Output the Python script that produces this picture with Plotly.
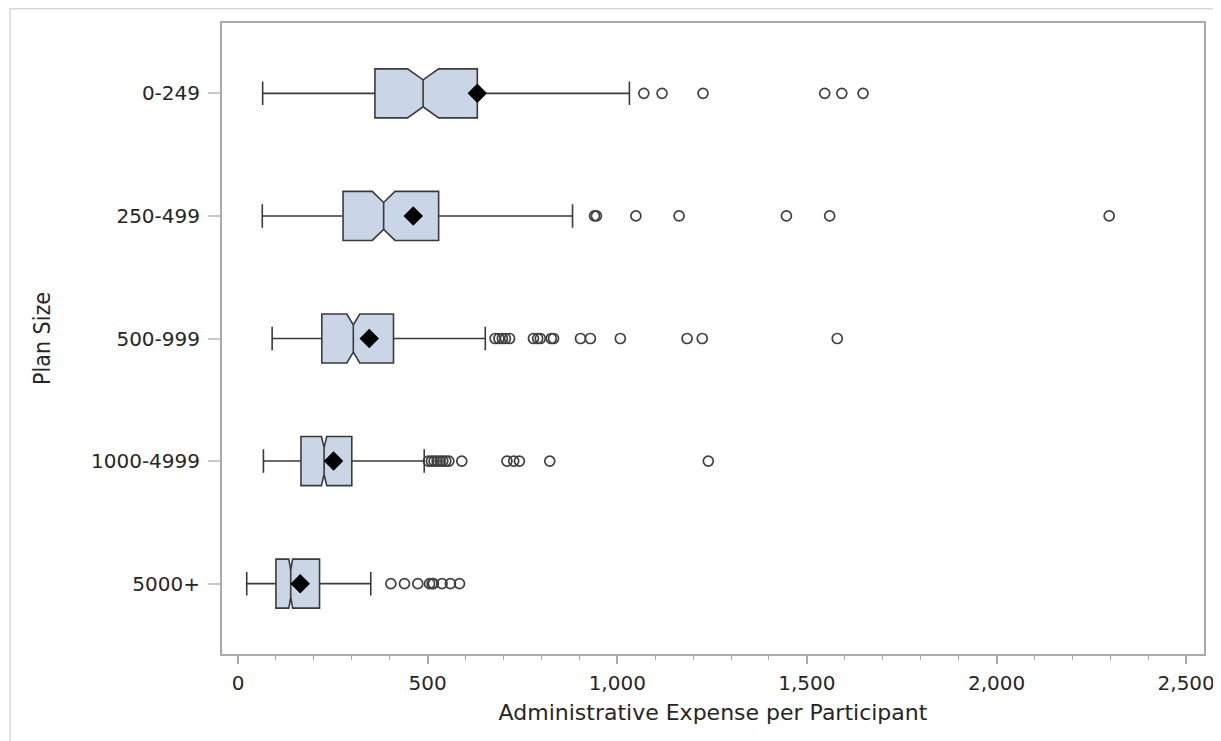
import plotly.graph_objects as go

# ---- data ----
categories = ["0-249", "250-499", "500-999", "1000-4999", "5000+"]
q1_vals = [361, 277, 221, 166, 100]
median_vals = [488, 384, 304, 227, 139]
q3_vals = [631, 529, 410, 300, 215]
lower_whisker = [65, 64, 90, 67, 23]
upper_whisker = [1032, 882, 652, 491, 350]
mean_vals = [631, 462, 346, 252, 164]
notch_halfspan = [41, 30, 17, 7, 5]

outliers_0_249 = [1070, 1118, 1226, 1547, 1592, 1648]
outliers_250_499 = [940, 945, 1049, 1163, 1446, 1560, 2297]
outliers_500_999 = [678, 688, 697, 705, 716, 779, 790, 797, 826, 832, 903, 929, 1008, 1184, 1224, 1580]
outliers_1000_4999 = [502, 510, 517, 525, 533, 540, 548, 556, 590, 709, 727, 742, 822, 1240]
outliers_5000 = [403, 439, 474, 505, 512, 515, 538, 560, 584]
outlier_lists = [outliers_0_249, outliers_250_499, outliers_500_999,
                 outliers_1000_4999, outliers_5000]

x_tick_vals = [0, 500, 1000, 1500, 2000, 2500]
x_tick_text = ["0", "500", "1,000", "1,500", "2,000", "2,500"]

# ---- styling ----
BOX_FILL = "#CAD5E6"
BOX_LINE = "#3a3a3a"
AXIS_GRAY = "#A8ABAE"
TEXT = "#262626"

fig = go.Figure()

fig.add_trace(go.Box(
    y=categories,
    q1=q1_vals,
    median=median_vals,
    q3=q3_vals,
    lowerfence=lower_whisker,
    upperfence=upper_whisker,
    notchspan=notch_halfspan,
    notched=True,
    notchwidth=0.225,
    orientation="h",
    width=0.40,
    whiskerwidth=0.48,
    fillcolor=BOX_FILL,
    line=dict(color=BOX_LINE, width=1.6),
    boxpoints=False,
    showlegend=False,
    hoverinfo="skip",
))

# outliers
ox, oy = [], []
for cat, lst in zip(categories, outlier_lists):
    ox.extend(lst)
    oy.extend([cat] * len(lst))
fig.add_trace(go.Scatter(
    x=ox, y=oy, mode="markers",
    marker=dict(symbol="circle-open", size=10, color="#404040",
                line=dict(width=1.7, color="#404040")),
    showlegend=False, hoverinfo="skip",
))

# means
fig.add_trace(go.Scatter(
    x=mean_vals, y=categories, mode="markers",
    marker=dict(symbol="diamond", size=15, color="black",
                line=dict(width=0)),
    showlegend=False, hoverinfo="skip",
))

# The page body adds an 8px offset; work in page pixels and shift.
OFF = 8
W, H = 1221 - OFF, 741 - OFF
L, R, T, B = 222, 1204, 23, 654  # page pixels of the plot area

def px_x(p):
    return (p - L) / (R - L)

def px_y(p):
    return (B - p) / (B - T)

fig.update_layout(
    width=W, height=H,
    margin=dict(l=L - OFF, r=1221 - R, t=T - OFF, b=741 - B, autoexpand=False),
    plot_bgcolor="white",
    paper_bgcolor="white",
    font=dict(family="DejaVu Sans, sans-serif", color=TEXT),
    xaxis=dict(
        range=[-42.2, 2547],
        tickvals=x_tick_vals,
        ticktext=x_tick_text,
        ticks="outside", ticklen=8, tickwidth=1.5, tickcolor=AXIS_GRAY,
        minor=dict(dtick=100, ticks="outside", ticklen=4, tickwidth=1,
                   tickcolor=AXIS_GRAY, showgrid=False),
        showgrid=False, zeroline=False,
        showline=True, linecolor=AXIS_GRAY, linewidth=2, mirror=True,
        ticklabelstandoff=2,
        tickfont=dict(size=20, family="DejaVu Sans, sans-serif", color=TEXT),
        title=dict(text="Administrative Expense per Participant",
                   font=dict(size=22, family="DejaVu Sans, sans-serif", color=TEXT),
                   standoff=11),
    ),
    yaxis=dict(
        type="category",
        categoryorder="array", categoryarray=categories,
        range=[4.574, -0.574],
        ticks="outside", ticklen=12, tickwidth=1.5, tickcolor="#C8C8C8",
        showgrid=False, zeroline=False,
        showline=True, linecolor=AXIS_GRAY, linewidth=2, mirror=True,
        ticklabelstandoff=4,
        tickfont=dict(size=20, family="DejaVu Sans, sans-serif", color=TEXT),
        title=dict(text="Plan Size",
                   font=dict(size=23, family="DejaVu Sans Condensed, Liberation Sans Narrow, sans-serif",
                             color=TEXT),
                   standoff=34),
    ),
    shapes=[
        dict(type="line", xref="paper", yref="paper",
             x0=px_x(10), x1=px_x(1221), y0=px_y(OFF + 0.8), y1=px_y(OFF + 0.8),
             line=dict(color="#D8D8D8", width=1.5)),
        dict(type="line", xref="paper", yref="paper",
             x0=px_x(10), x1=px_x(10), y0=px_y(OFF), y1=px_y(741),
             line=dict(color="#D8D8D8", width=1.5)),
    ],
)

fig.write_html("out.html")
